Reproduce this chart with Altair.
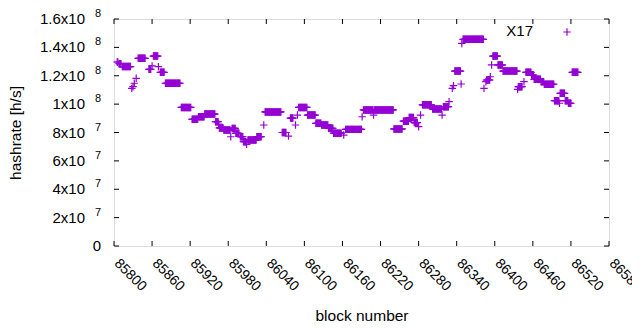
import altair as alt
import pandas as pd

# Runs of consecutive blocks sharing the same hashrate
run_start = [85805, 85808, 85813, 85828, 85830, 85832, 85835, 85838, 85855, 85860,
             85862, 85870, 85873, 85881, 85906, 85923, 85933, 85943, 85960, 85965,
             85966, 85973, 85984, 85986, 85992, 85999, 86004, 86009, 86011, 86025,
             86036, 86038, 86065, 86075, 86078, 86086, 86089, 86091, 86105, 86118,
             86127, 86138, 86146, 86162, 86165, 86191, 86193, 86209, 86210, 86241,
             86256, 86265, 86273, 86280, 86283, 86286, 86302, 86317, 86319, 86328,
             86333, 86335, 86337, 86347, 86348, 86350, 86383, 86386, 86387, 86393,
             86395, 86397, 86405, 86413, 86436, 86437, 86446, 86449, 86458, 86462,
             86473, 86478, 86494, 86502, 86503, 86511, 86516, 86522]
run_end = [85806, 85811, 85826, 85828, 85830, 85832, 85835, 85849, 85858, 85860,
           85869, 85870, 85879, 85904, 85921, 85932, 85942, 85959, 85964, 85965,
           85972, 85983, 85984, 85991, 85997, 86003, 86008, 86009, 86024, 86032,
           86036, 86063, 86071, 86075, 86082, 86086, 86089, 86104, 86117, 86126,
           86137, 86145, 86158, 86162, 86190, 86191, 86208, 86209, 86240, 86254,
           86264, 86272, 86278, 86280, 86283, 86300, 86316, 86317, 86327, 86328,
           86333, 86335, 86346, 86347, 86348, 86382, 86383, 86386, 86392, 86393,
           86395, 86404, 86412, 86435, 86436, 86443, 86446, 86457, 86461, 86472,
           86477, 86493, 86501, 86502, 86510, 86515, 86520, 86531]
run_mhs = [129.7, 128.5, 126.5, 111.1, 112.3, 114.7, 118.2, 132.3, 124.5, 126.9,
           133.9, 126.4, 122.4, 114.7, 97.7, 89.3, 91.1, 93.0, 87.6, 86.0,
           83.2, 81.8, 77.0, 82.9, 79.4, 77.0, 73.5, 71.7, 74.7, 77.0,
           85.3, 94.5, 80.0, 77.5, 90.2, 85.3, 92.3, 97.7, 92.3, 86.5,
           85.3, 83.0, 79.5, 78.2, 82.2, 91.1, 95.9, 92.3, 95.9, 82.5,
           88.0, 90.5, 87.0, 84.1, 92.3, 99.5, 96.5, 92.3, 98.2, 101.7,
           111.1, 113.0, 123.3, 114.2, 142.8, 145.7, 111.1, 115.8, 117.0, 119.3,
           127.6, 133.9, 127.6, 123.3, 110.4, 112.3, 115.8, 122.4, 120.5, 117.5,
           115.8, 114.0, 102.4, 100.6, 107.6, 102.4, 100.6, 122.4]

x_ticks = [85800, 85860, 85920, 85980, 86040, 86100, 86160, 86220,
           86280, 86340, 86400, 86460, 86520, 86580]
y_ticks = [0, 2e7, 4e7, 6e7, 8e7, 1e8, 1.2e8, 1.4e8, 1.6e8]
y_mantissa = ["0", "2", "4", "6", "8", "1", "1.2", "1.4", "1.6"]
y_exponent = ["", "7", "7", "7", "7", "8", "8", "8", "8"]
series_name = ["X17"]

rows = []
for s, e, v in zip(run_start, run_end, run_mhs):
    for b in range(s, e + 1):
        rows.append({"block": b, "hashrate": v * 1e6})
df = pd.DataFrame(rows)

xtick_df = pd.DataFrame({"block": x_ticks})
ytick_df = pd.DataFrame({"hashrate": y_ticks, "mant": y_mantissa, "expo": y_exponent})
legend_df = pd.DataFrame({"name": series_name})

W, H = 495, 227
FONT = "Liberation Sans"
PURPLE = "#9400d3"
PLUS = "M-1,0L1,0M0,-1L0,1"

xs = alt.Scale(domain=[85800, 86580], nice=False, zero=False)
ys = alt.Scale(domain=[0, 1.6e8], nice=False, zero=False)

x_axis = alt.Axis(
    values=x_ticks, format="d", labelAngle=45, labelAlign="left",
    labelBaseline="middle", labelPadding=15, labelOffset=2,
    labelFont=FONT, labelFontSize=14, labelColor="black",
    labelFlush=False, labelOverlap=False, labelBound=False,
    ticks=False, domain=False, grid=False,
    title="block number", titleFont=FONT, titleFontSize=15.5,
    titleFontWeight="normal", titleColor="black",
    titleBaseline="middle", titleY=69)
y_axis = alt.Axis(
    labels=False, ticks=False, domain=False, grid=False,
    title="hashrate [h/s]", titleFont=FONT, titleFontSize=15.5,
    titleFontWeight="normal", titleColor="black", titleAngle=270,
    titleBaseline="middle", titleAlign="center", titleX=-99, titleY=H / 2)

X = alt.X("block:Q", scale=xs, axis=x_axis)
Y = alt.Y("hashrate:Q", scale=ys, axis=y_axis)

points = alt.Chart(df).mark_point(
    shape=PLUS, filled=False, size=56, strokeWidth=1.2, color=PURPLE, opacity=1
).encode(x=X, y=Y)

tick_style = dict(color="black", strokeWidth=1)
left_ticks = alt.Chart(ytick_df).mark_rule(**tick_style).encode(
    y=Y, x=alt.value(0), x2=alt.value(5))
right_ticks = alt.Chart(ytick_df).mark_rule(**tick_style).encode(
    y=Y, x=alt.value(W - 5), x2=alt.value(W))
bottom_ticks = alt.Chart(xtick_df).mark_rule(**tick_style).encode(
    x=X, y=alt.value(H - 5), y2=alt.value(H))
top_ticks = alt.Chart(xtick_df).mark_rule(**tick_style).encode(
    x=X, y=alt.value(0), y2=alt.value(5))

ylab_base = alt.Chart(ytick_df).transform_filter("datum.hashrate > 0").transform_calculate(
    base="datum.mant + 'x10'"
).mark_text(align="right", baseline="middle", font=FONT, fontSize=15, color="black").encode(
    y=Y, x=alt.value(-29), text="base:N")
ylab_exp = alt.Chart(ytick_df).transform_filter("datum.hashrate > 0").mark_text(
    align="right", baseline="middle", font=FONT, fontSize=11, color="black", dy=-5
).encode(y=Y, x=alt.value(-13), text="expo:N")
ylab_zero = alt.Chart(ytick_df).transform_filter("datum.hashrate == 0").mark_text(
    align="right", baseline="middle", font=FONT, fontSize=15, color="black"
).encode(y=Y, x=alt.value(-13), text="mant:N")

legend_text = alt.Chart(legend_df).mark_text(
    align="right", baseline="middle", font=FONT, fontSize=15, color="black"
).encode(x=alt.value(419), y=alt.value(12), text="name:N")
legend_sym = alt.Chart(legend_df).mark_point(
    shape=PLUS, filled=False, size=56, strokeWidth=1.2, color=PURPLE, opacity=1
).encode(x=alt.value(453), y=alt.value(13))

chart = alt.layer(
    points, left_ticks, right_ticks, bottom_ticks, top_ticks,
    ylab_base, ylab_exp, ylab_zero, legend_text, legend_sym
).properties(
    width=W, height=H,
    padding={"left": 106, "top": 11, "right": 23, "bottom": 76},
    autosize=alt.AutoSizeParams(type="none"),
).configure_view(stroke="black", strokeWidth=1).configure(font=FONT, background="white")

chart.save("out.html", embed_options={"renderer": "svg", "actions": False})
